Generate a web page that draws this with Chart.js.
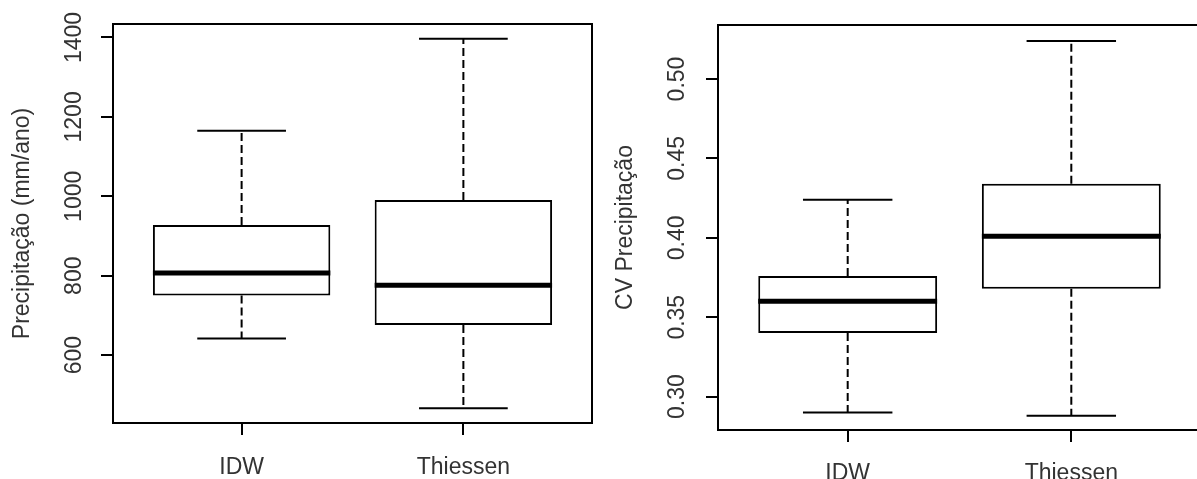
<!DOCTYPE html>
<html>
<head>
<meta charset="utf-8">
<script src="https://cdn.jsdelivr.net/npm/chart.js@4.4.0/dist/chart.umd.min.js"></script>
<style>
body{margin:0;background:#fff;overflow:hidden;width:1197px;height:479px;position:relative}
#precip{position:absolute;left:0;top:0}
#cv{position:absolute;left:598px;top:0}
</style>
</head>
<body>
<canvas id="precip" width="598" height="479"></canvas>
<canvas id="cv" width="608" height="479"></canvas>
<script>
const categorias = ["IDW", "Thiessen"];

// precipitação (mm/ano)
const precipMin = [642, 466];
const precipQ1 = [750, 676];
const precipMediana = [807, 776];
const precipQ3 = [928, 991];
const precipMax = [1165, 1397];
const precipTicks = [600, 800, 1000, 1200, 1400];

// CV precipitação
const cvMin = [0.290, 0.288];
const cvQ1 = [0.340, 0.368];
const cvMediana = [0.360, 0.401];
const cvQ3 = [0.376, 0.434];
const cvMax = [0.424, 0.524];
const cvTicks = [0.30, 0.35, 0.40, 0.45, 0.50];

const fonte = '"Liberation Sans", Arial, sans-serif';
const corTexto = "#333";

function montarBoxplot(minimo, q1, mediana, q3, maximo){

    const caixas = categorias.map((c, i) => ({x: i + 1, y: [q1[i], q3[i]]}));
    const bigodes = [];
    const hastes = [];
    const medianas = [];

    categorias.forEach((c, i) => {
        const x = i + 1;
        bigodes.push(
            {x: x, y: q3[i]}, {x: x, y: maximo[i]}, {x: x, y: null},
            {x: x, y: q1[i]}, {x: x, y: minimo[i]}, {x: x, y: null}
        );
        hastes.push(
            {x: x - 0.2, y: maximo[i]}, {x: x + 0.2, y: maximo[i]}, {x: x, y: null},
            {x: x - 0.2, y: minimo[i]}, {x: x + 0.2, y: minimo[i]}, {x: x, y: null}
        );
        medianas.push(
            {x: x - 0.4, y: mediana[i]}, {x: x + 0.4, y: mediana[i]}, {x: x, y: null}
        );
    });

    return [
        {
            type: "bar",
            data: caixas,
            backgroundColor: "#fff",
            borderColor: "#000",
            borderWidth: 2,
            borderSkipped: false,
            barPercentage: 0.8,
            categoryPercentage: 1,
            order: 1
        },
        {
            type: "line",
            data: bigodes,
            borderColor: "#000",
            borderWidth: 2,
            borderDash: [8, 4],
            pointRadius: 0,
            spanGaps: false,
            order: 2
        },
        {
            type: "line",
            data: hastes,
            borderColor: "#000",
            borderWidth: 2,
            pointRadius: 0,
            spanGaps: false,
            order: 2
        },
        {
            type: "line",
            data: medianas,
            borderColor: "#000",
            borderWidth: 5,
            borderCapStyle: "butt",
            pointRadius: 0,
            spanGaps: false,
            order: 0
        }
    ];
}

// moldura em volta da área do gráfico
const moldura = {
    id: "moldura",
    afterDraw(chart){
        const a = chart.chartArea;
        const ctx = chart.ctx;
        ctx.save();
        ctx.strokeStyle = "#000";
        ctx.lineWidth = 2;
        ctx.strokeRect(a.left, a.top, a.right - a.left, a.bottom - a.top);
        ctx.restore();
    }
};

// rótulos do eixo y girados, como no R
const rotuloY = {
    id: "rotuloY",
    afterDraw(chart, args, opts){
        const escala = chart.scales.y;
        const ctx = chart.ctx;
        ctx.save();
        ctx.font = "23px " + fonte;
        ctx.fillStyle = corTexto;
        ctx.textAlign = "center";
        ctx.textBaseline = "middle";
        escala.ticks.forEach(t => {
            const y = escala.getPixelForValue(t.value);
            ctx.save();
            ctx.translate(opts.x, y);
            ctx.rotate(-Math.PI / 2);
            ctx.fillText(t.value.toFixed(opts.casas), 0, 0);
            ctx.restore();
        });
        ctx.restore();
    }
};

function criarGrafico(id, datasets, cfg){

    return new Chart(document.getElementById(id), {
        data: {datasets: datasets},
        plugins: [moldura, rotuloY],
        options: {
            responsive: false,
            animation: false,
            layout: {padding: cfg.padding},
            plugins: {
                legend: {display: false},
                tooltip: {enabled: false},
                rotuloY: {x: cfg.rotuloX, casas: cfg.casas}
            },
            scales: {
                x: {
                    type: "linear",
                    min: 0.42,
                    max: 2.58,
                    offset: false,
                    afterBuildTicks: s => { s.ticks = categorias.map((c, i) => ({value: i + 1})); },
                    afterFit: s => { s.height = cfg.alturaX; },
                    grid: {offset: false, drawOnChartArea: false, tickLength: 12, lineWidth: 2, color: "#000"},
                    border: {display: false},
                    ticks: {
                        autoSkip: false,
                        maxRotation: 0,
                        padding: cfg.paddingX,
                        color: corTexto,
                        font: {size: 23, family: fonte},
                        callback: v => categorias[v - 1] || ""
                    }
                },
                y: {
                    type: "linear",
                    min: cfg.min,
                    max: cfg.max,
                    beginAtZero: false,
                    afterBuildTicks: s => { s.ticks = cfg.ticks.map(v => ({value: v})); },
                    afterFit: s => { s.width = cfg.larguraY; },
                    grid: {drawOnChartArea: false, tickLength: 12, lineWidth: 2, color: "#000"},
                    border: {display: false},
                    ticks: {display: false},
                    title: {
                        display: true,
                        text: cfg.titulo,
                        color: corTexto,
                        font: {size: 23, family: fonte},
                        padding: {top: cfg.tituloPad, bottom: 0}
                    }
                }
            }
        }
    });
}

criarGrafico(
    "precip",
    montarBoxplot(precipMin, precipQ1, precipMediana, precipQ3, precipMax),
    {
        padding: {top: 24, right: 6, bottom: 0, left: 0},
        larguraY: 113, alturaX: 56, paddingX: 19,
        min: 429, max: 1434, ticks: precipTicks,
        titulo: "Precipitação (mm/ano)", tituloPad: 9,
        rotuloX: 75, casas: 0
    }
);

criarGrafico(
    "cv",
    montarBoxplot(cvMin, cvQ1, cvMediana, cvQ3, cvMax),
    {
        padding: {top: 25, right: 5, bottom: 0, left: 0},
        larguraY: 120, alturaX: 49, paddingX: 18,
        min: 0.279, max: 0.534, ticks: cvTicks,
        titulo: "CV Precipitação", tituloPad: 14,
        rotuloX: 80, casas: 2
    }
);
</script>
</body>
</html>
